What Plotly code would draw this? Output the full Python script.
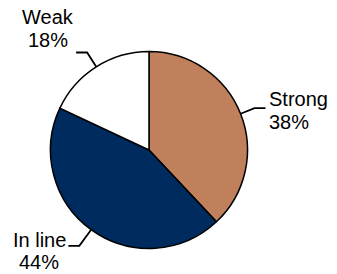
import math
import plotly.graph_objects as go

labels = ["Strong", "In line", "Weak"]
values = [38, 44, 18]
pct_text = ["38%", "44%", "18%"]
colors = ["#C0805C", "#002B5E", "#FFFFFF"]

W, H = 337, 274
cx, cy, R = 149, 150, 98.5  # pixel geometry of the pie

fig = go.Figure(go.Pie(
    labels=labels, values=values, sort=False, direction="clockwise",
    rotation=0, textinfo="none", hoverinfo="label+percent",
    marker=dict(colors=colors, line=dict(color="#000000", width=1.5)),
    domain=dict(x=[(cx - R) / W, (cx + R) / W],
                y=[(H - cy - R) / H, (H - cy + R) / H]),
    showlegend=False,
))

# label placement style (offsets relative to elbow end, pixels)
label_style = {
    "Strong": dict(dx=2, anchor="left", y1=-9, y2=14, seg=15, hor=11),
    "In line": dict(dx=-29, anchor="center", y1=-6, y2=16, seg=20, hor=11),
    "Weak": dict(dx=-28, anchor="center", y1=-35, y2=-12, seg=17, hor=11),
}

def px2paper(x, y):
    return x / W, 1 - y / H

shapes, annotations = [], []
total = sum(values)
cum = 0
for lab, v, pt in zip(labels, values, pct_text):
    mid = (cum + v / 2) / total * 2 * math.pi
    cum += v
    st = label_style[lab]
    sx, sy = math.sin(mid), -math.cos(mid)
    x0, y0 = cx + R * sx, cy + R * sy
    x1, y1 = cx + (R + st["seg"]) * sx, cy + (R + st["seg"]) * sy
    side = 1 if sx > 0 else -1
    x2, y2 = x1 + side * st["hor"], y1
    path = "M {} {} L {} {} L {} {}".format(
        *px2paper(x0, y0), *px2paper(x1, y1), *px2paper(x2, y2))
    shapes.append(dict(type="path", path=path, xref="paper", yref="paper",
                       line=dict(color="#000000", width=1.8)))
    tx = x2 + st["dx"]
    for txt, dy in ((lab, st["y1"]), (pt, st["y2"])):
        ax, ay = px2paper(tx, y2 + dy)
        annotations.append(dict(text=txt, x=ax, y=ay, xref="paper", yref="paper",
                                xanchor=st["anchor"], yanchor="middle",
                                showarrow=False, borderpad=0,
                                font=dict(family="Liberation Sans, Arial", size=20,
                                          color="#000000")))

fig.update_layout(width=W, height=H, margin=dict(l=0, r=0, t=0, b=0),
                  paper_bgcolor="#FFFFFF", plot_bgcolor="#FFFFFF",
                  shapes=shapes, annotations=annotations)
fig.write_html("out.html", config={"displayModeBar": False},
               post_script="document.body.style.margin='0';document.body.style.overflow='hidden';")
